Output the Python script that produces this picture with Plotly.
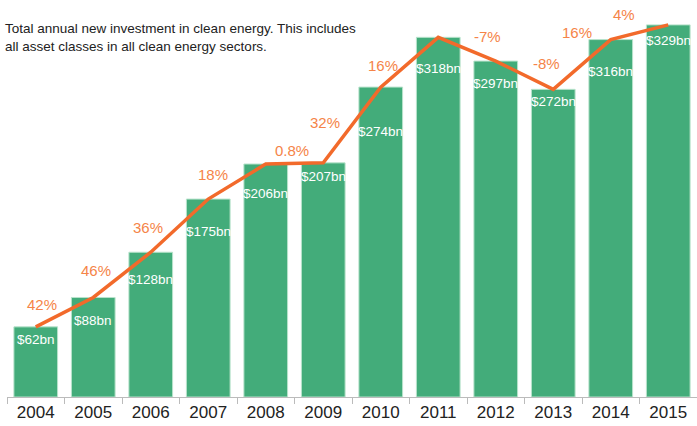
import plotly.graph_objects as go

years = ["2004", "2005", "2006", "2007", "2008", "2009", "2010", "2011", "2012", "2013", "2014", "2015"]
investment_bn = [62, 88, 128, 175, 206, 207, 274, 318, 297, 272, 316, 329]
value_labels = ["$62bn", "$88bn", "$128bn", "$175bn", "$206bn", "$207bn", "$274bn", "$318bn", "$297bn", "$272bn", "$316bn", "$329bn"]
growth_labels = ["42%", "46%", "36%", "18%", "0.8%", "32%", "16%", "-7%", "-8%", "16%", "4%"]

# label placement (layout only)
value_label_y = [51, 68, 104, 146, 180, 195, 235, 290, 277, 261, 288, 315]
growth_label_x = [0.11, 1.05, 1.95, 3.08, 4.45, 5.03, 6.04, 7.85, 8.89, 9.41, 10.23]
growth_label_y = [82, 112, 150, 197, 218, 243, 293, 319, 295, 322, 338]

GREEN = "#43AC7A"
ORANGE = "#F26A2B"
ORANGE_TXT = "#F58448"
FONT = "Liberation Sans, Arial, sans-serif"

fig = go.Figure()
fig.add_trace(go.Bar(
    x=years, y=investment_bn,
    marker=dict(color=GREEN, line=dict(color="#B9E3CC", width=1)),
    hoverinfo="skip",
))
fig.add_trace(go.Scatter(
    x=years, y=investment_bn, mode="lines",
    line=dict(color=ORANGE, width=3.5),
    hoverinfo="skip",
))

for i, (lab, yv) in enumerate(zip(value_labels, value_label_y)):
    fig.add_annotation(x=i, y=yv, xref="x", yref="y", text=lab, showarrow=False,
                       font=dict(family=FONT, size=13.5, color="white"))

for lab, xv, yv in zip(growth_labels, growth_label_x, growth_label_y):
    fig.add_annotation(x=xv, y=yv, xref="x", yref="y", text=lab, showarrow=False,
                       font=dict(family=FONT, size=15, color=ORANGE_TXT))

fig.add_annotation(
    x=-0.006, y=(397 - 19) / 397, xref="paper", yref="paper",
    xanchor="left", yanchor="top", align="left", showarrow=False,
    text="Total annual new investment in clean energy. This includes<br>all asset classes in all clean energy sectors.",
    font=dict(family=FONT, size=13.5, color="#222222"),
)

fig.update_layout(
    width=697, height=426,
    margin=dict(l=7, r=0, t=0, b=29),
    paper_bgcolor="white", plot_bgcolor="white",
    showlegend=False,
    bargap=0.24,
    font=dict(family=FONT),
    xaxis=dict(
        type="category", range=[-0.5, 11.5],
        tickson="boundaries", ticks="outside", ticklen=6, tickcolor="#BBBBBB",
        showline=True, linecolor="#BBBBBB", linewidth=1,
        showgrid=False, tickfont=dict(family=FONT, size=17, color="#222222"),
    ),
    yaxis=dict(range=[0, 351], visible=False, showgrid=False, zeroline=False),
)

fig.write_html("out.html", config={"displayModeBar": False},
               post_script="document.body.style.margin='0';")
